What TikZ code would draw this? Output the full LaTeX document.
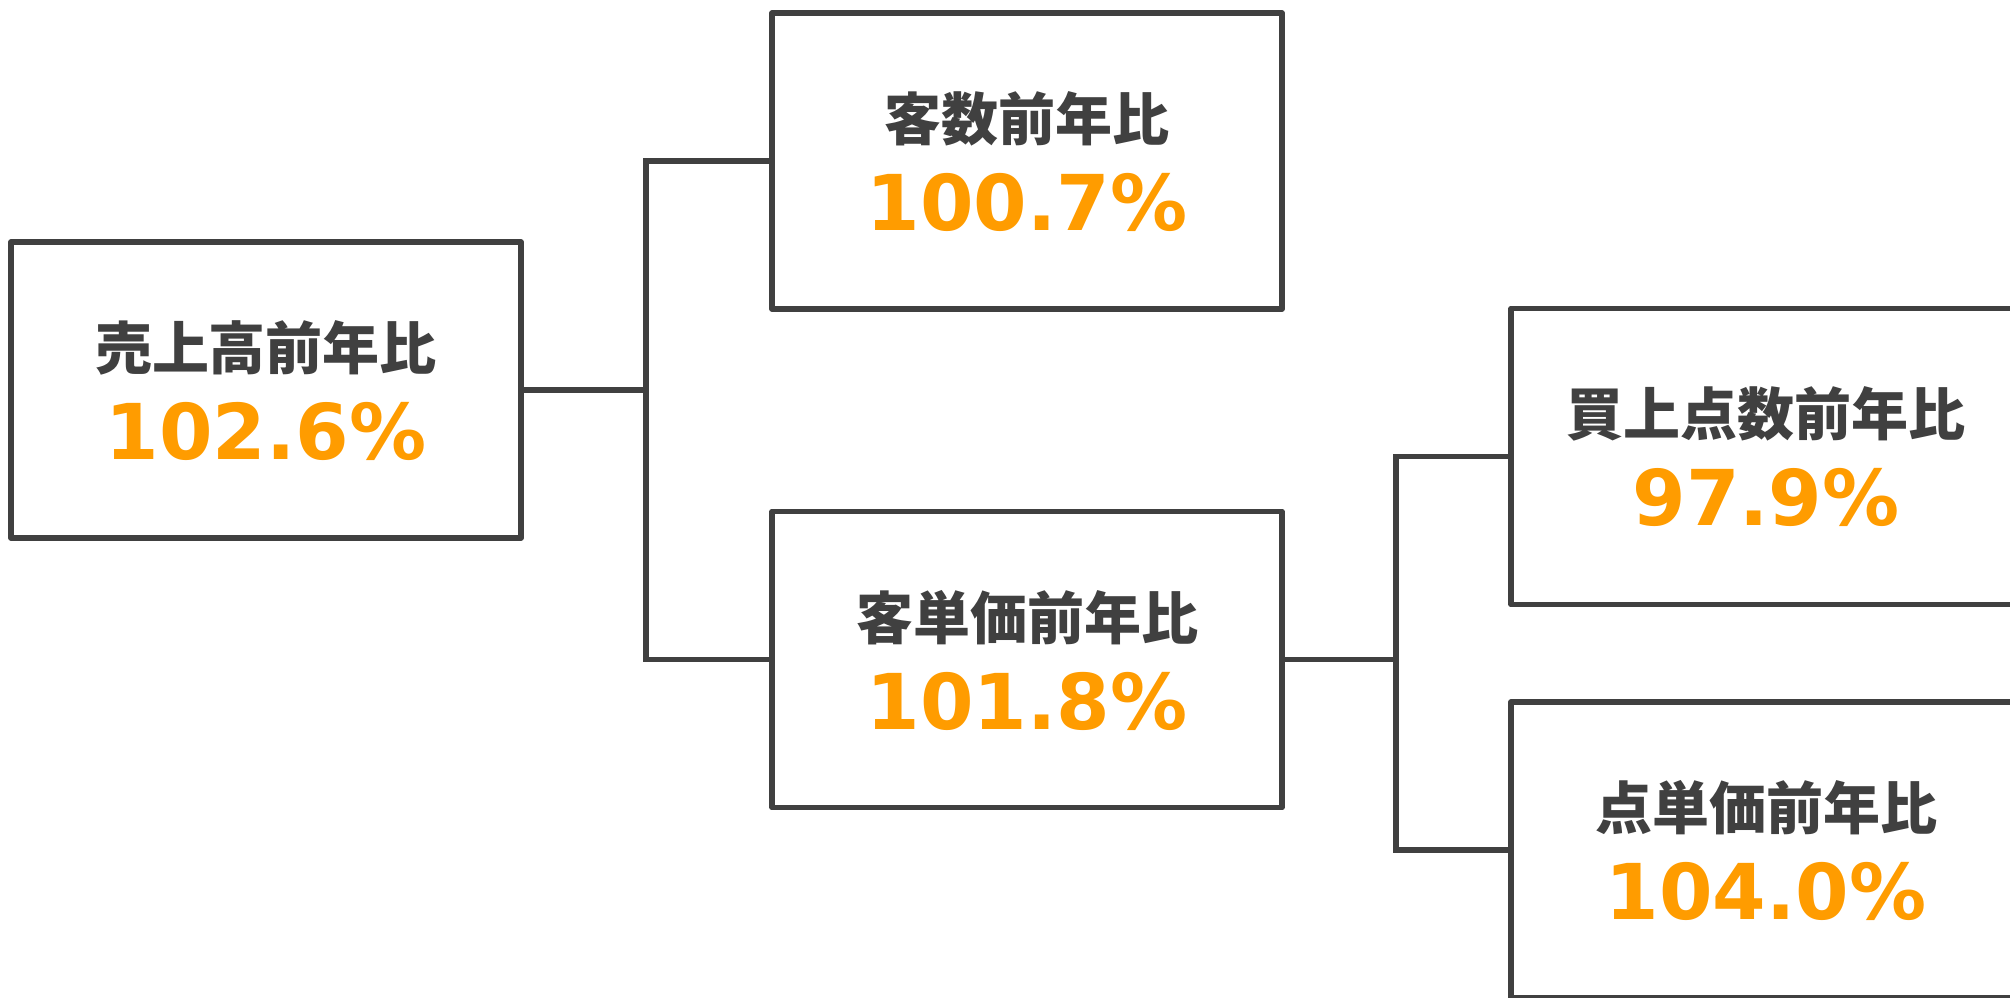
\documentclass[tikz,border=0pt]{standalone}
\usepackage{fontspec}
\newfontfamily\cjkfont{Noto Sans CJK JP}
\newfontfamily\numfont{DejaVu Sans}
\definecolor{linegray}{HTML}{404040}
\definecolor{valorange}{HTML}{FF9C00}
\newcommand{\ratio}[2]{{\cjkfont\bfseries\fontsize{28.5}{45}\selectfont #1}\\{\numfont\bfseries\color{valorange}\fontsize{38.5}{45}\selectfont #2}}
\tikzset{
  kpibox/.style={draw=linegray, line width=2.8pt, line join=round, fill=white,
    minimum width=255pt, minimum height=148pt, inner sep=0pt, align=center,
    text=linegray, font={\fontsize{38.5}{45}\selectfont}, text depth=0pt},
  tree/.style={draw=linegray, line width=2.8pt}
}
\begin{document}
\begin{tikzpicture}[x=0.5pt, y=-0.5pt]
      \clip (0,0) rectangle (2010,997);
      \useasboundingbox (0,0) rectangle (2010,997);
      \draw
        (266,390) node[kpibox] (sales){\ratio{売上高前年比}{102.6\%}}
        (1027,161) node[kpibox] (cust){\ratio{客数前年比}{100.7\%}}
        (1027,659.5) node[kpibox] (spend){\ratio{客単価前年比}{101.8\%}}
        (1766,456.5) node[kpibox] (items){\ratio{買上点数前年比}{97.9\%}}
        (1766,850) node[kpibox] (price){\ratio{点単価前年比}{104.0\%}};
      \coordinate (jsales) at (646,390);
      \coordinate (jspend) at (1396,659.5);
      \begin{scope}[tree]
        \draw (sales) to (jsales);
        \draw (cust.west) -| (jsales);
        \draw (spend.west) -| (jsales);
        \draw (spend) to (jspend);
        \draw (items.west) -| (jspend);
        \draw (price.west) -| (jspend);
      \end{scope}
    \end{tikzpicture}
\end{document}
